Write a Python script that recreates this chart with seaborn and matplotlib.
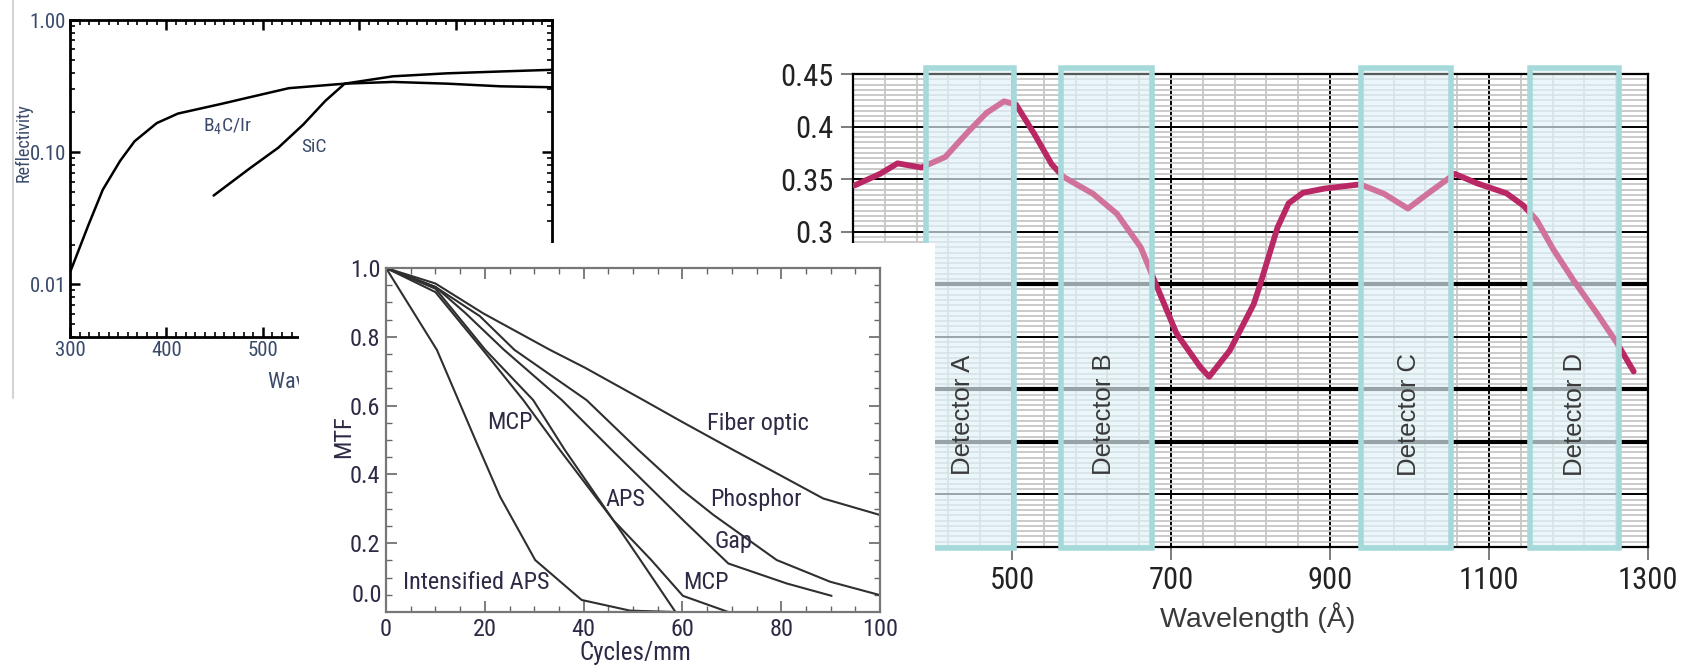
import numpy as np
import matplotlib
matplotlib.use('Agg')
import matplotlib.pyplot as plt
import matplotlib.ticker as mticker
from matplotlib.lines import Line2D
from matplotlib import font_manager as fm
import seaborn as sns

# --- reflectivity panel (top left) ---
b4c_wl = [300, 319, 334, 352, 367, 390, 412, 457, 486, 527, 585, 635, 691, 747, 800]
b4c_refl = [0.0123, 0.028, 0.052, 0.086, 0.121, 0.166, 0.196, 0.232, 0.26, 0.305, 0.33, 0.34, 0.33, 0.315, 0.31]
sic_wl = [449, 486, 516, 542, 565, 585, 635, 691, 747, 800]
sic_refl = [0.047, 0.075, 0.108, 0.162, 0.245, 0.33, 0.375, 0.395, 0.408, 0.42]

# --- MTF panel (bottom middle) ---
fiber_x = [0, 10, 19.7, 33.2, 40.3, 52.1, 59.9, 70.3, 79.1, 88.5, 100]
fiber_y = [1.0, 0.955, 0.868, 0.762, 0.71, 0.616, 0.553, 0.471, 0.403, 0.33, 0.282]
phos_x = [0, 10, 19, 26, 40.6, 51.1, 59.9, 66.3, 79.1, 89.9, 100]
phos_y = [1.0, 0.945, 0.86, 0.762, 0.616, 0.471, 0.355, 0.282, 0.151, 0.088, 0.049]
gap_x = [0, 10, 16, 23.9, 35.6, 45.7, 60.5, 69.3, 81.1, 90.2]
gap_y = [1.0, 0.945, 0.87, 0.762, 0.616, 0.471, 0.262, 0.141, 0.083, 0.047]
aps_x = [0, 10, 19.6, 27.8, 35.2, 46, 51.5, 58.6]
aps_y = [1.0, 0.93, 0.762, 0.616, 0.471, 0.267, 0.151, 0.0]
mcp_x = [0, 10, 20.1, 29.8, 36.2, 46, 53.7, 60.1, 69.3]
mcp_y = [1.0, 0.94, 0.762, 0.616, 0.471, 0.267, 0.151, 0.047, 0.0]
iaps_x = [0, 10.3, 18.4, 23.1, 30.2, 39.6, 49.4, 58.6]
iaps_y = [1.0, 0.762, 0.49, 0.335, 0.151, 0.035, 0.004, 0.0]
mtf_names = ['MCP', 'Fiber optic', 'APS', 'Phosphor', 'Gap', 'MCP', 'Intensified APS']

# --- detector response panel (right) ---
wave = [302, 334, 356, 386, 416, 446, 468, 490, 505, 528, 550, 565, 602, 632, 662, 681,
        707, 737, 748, 774, 804, 811, 834, 848, 866, 893, 938, 968, 998, 1028, 1057, 1085,
        1122, 1143, 1160, 1181, 1206, 1236, 1261, 1282]
resp = [0.344, 0.355, 0.365, 0.361, 0.371, 0.396, 0.413, 0.424, 0.421, 0.393, 0.364, 0.352,
        0.336, 0.317, 0.285, 0.250, 0.203, 0.171, 0.162, 0.187, 0.231, 0.247, 0.304, 0.327,
        0.337, 0.341, 0.345, 0.336, 0.322, 0.339, 0.355, 0.346, 0.3365, 0.325, 0.311, 0.283,
        0.254, 0.222, 0.194, 0.167]
det_names = ['Detector A', 'Detector B', 'Detector C', 'Detector D']
det_lo = [392, 562, 939, 1152]
det_hi = [502, 676, 1052, 1263]
heavy_grid = [0.25, 0.15, 0.1]  # 原圖中較粗的格線

sns.set_theme(style='ticks')
names = {f.name for f in fm.fontManager.ttflist}
narrow, k = 'Liberation Sans', 0.86
for pref in ['Liberation Sans Narrow', 'Roboto Condensed', 'Open Sans Condensed', 'Noto Sans Condensed']:
    if pref in names:
        narrow, k = pref, 1.0
        break
reg = 'Liberation Sans'
plt.rcParams['font.family'] = [narrow, 'DejaVu Sans']

W, H = 1688, 669
fig = plt.figure(figsize=(W / 100, H / 100), dpi=100)


def box(l, t, r, b):
    return [l / W, 1 - b / H, (r - l) / W, (b - t) / H]


ax1 = fig.add_axes(box(70, 20, 552, 337))
ax3 = fig.add_axes(box(853, 74, 1648, 547))
panel = fig.add_axes(box(299, 243, 935, 669))
ax2 = fig.add_axes(box(386, 268, 880, 612))
ax1.set_zorder(1)
ax3.set_zorder(1)
panel.set_zorder(5)
ax2.set_zorder(6)

# 左上：反射率
c1 = '#3b4a6b'
sns.lineplot(x=b4c_wl, y=b4c_refl, ax=ax1, color='black', lw=1.8)
sns.lineplot(x=sic_wl, y=sic_refl, ax=ax1, color='black', lw=1.8)
ax1.set_yscale('log')
ax1.set_xlim(300, 800)
ax1.set_ylim(0.004, 1.0)
ax1.set_xticks(range(300, 801, 100))
ax1.set_xticklabels(['300', '400', '500', '', '', ''])  # 其餘被下方圖遮住
ax1.xaxis.set_minor_locator(mticker.MultipleLocator(10))
ax1.set_yticks([0.01, 0.1, 1.0])
ax1.set_yticklabels(['0.01', '0.10', '1.00'])
ax1.yaxis.set_minor_locator(mticker.LogLocator(subs=np.arange(2, 10)))
ax1.yaxis.set_minor_formatter(mticker.NullFormatter())
ax1.tick_params(which='both', direction='in', top=True, right=True, color='black')
ax1.tick_params(which='major', length=7, width=1.8, labelsize=15 * k, pad=3, labelcolor=c1)
ax1.tick_params(which='minor', length=3.5, width=1.2)
for s in ax1.spines.values():
    s.set_color('black')
    s.set_linewidth(2)
ax1.set_ylabel('Reflectivity', fontsize=13 * k, color=c1, va='center')
ax1.yaxis.set_label_coords(-0.096, 0.612)
ax1.set_xlabel('Wavelength (Å)', fontsize=16 * k, color=c1, va='center', ha='left')
ax1.xaxis.set_label_coords(0.41, -0.136)
ax1.text(463, 0.157, r'$\mathregular{B_4C/Ir}$', fontsize=14 * k, color=c1, ha='center', va='center')
ax1.text(553, 0.109, 'SiC', fontsize=14 * k, color=c1, ha='center', va='center')

# 右：探測器響應
red = '#b92864'
sns.lineplot(x=wave, y=resp, ax=ax3, color=red, lw=4.2, zorder=3)
ax3.set_xlim(300, 1300)
ax3.set_ylim(0, 0.45)
ax3.set_xticks(range(500, 1301, 200))
yt = np.round(np.arange(0, 0.451, 0.05), 2)
ax3.set_yticks(yt)
# 0.3 以下的刻度文字被中間的圖遮住
ax3.set_yticklabels(['{:g}'.format(v) if v >= 0.3 else '' for v in yt])
ax3.set_xticks(np.arange(300, 1301, 40), minor=True)
ax3.set_yticks(np.arange(0, 0.451, 0.005), minor=True)
ax3.set_axisbelow(True)
ax3.grid(which='minor', color='#c6c6c6', lw=1.3)
ax3.grid(which='major', color='black', lw=1.4)
for v in heavy_grid:
    ax3.axhline(v, color='black', lw=3, zorder=1)
ax3.tick_params(which='minor', length=0)
ax3.tick_params(which='major', direction='out', length=9, width=1.2, color='#666666',
                labelsize=22 * k, pad=5, labelcolor='#222222')
for s in ax3.spines.values():
    s.set_color('black')
    s.set_linewidth(1.6)
for lo, hi in zip(det_lo, det_hi):
    # 淡藍底在曲線下，白色半透明罩在曲線上
    ax3.axvspan(lo, hi, ymin=-0.002, ymax=1.013, facecolor='#c1e6f0', alpha=0.5, lw=0,
                zorder=2, clip_on=False)
    ax3.axvspan(lo, hi, ymin=-0.002, ymax=1.013, facecolor='white', alpha=0.35, lw=0,
                zorder=4, clip_on=False)
    ax3.axvspan(lo, hi, ymin=-0.002, ymax=1.013, facecolor='none', edgecolor='#a6dada',
                lw=4, zorder=4, clip_on=False)
for name, xc in zip(det_names, [438, 616, 1000, 1208]):
    ax3.text(xc, 0.126, name, rotation=90, ha='center', va='center', fontsize=18.5,
             color='#3a3a3a', zorder=5, family=reg)
ax3.set_xlabel('Wavelength (Å)', fontsize=20.5, color='#3a3a3a', family=reg, va='center')
ax3.xaxis.set_label_coords(0.509, -0.150)

# 白底遮蓋面板
panel.set_facecolor('white')
panel.set_xticks([])
panel.set_yticks([])
for s in panel.spines.values():
    s.set_visible(False)

# 中下：MTF
c2 = '#2e2a45'
for xs, ys in [(fiber_x, fiber_y), (phos_x, phos_y), (gap_x, gap_y),
               (aps_x, aps_y), (mcp_x, mcp_y), (iaps_x, iaps_y)]:
    sns.lineplot(x=xs, y=ys, ax=ax2, color='#2f2f2f', lw=1.5)
ax2.set_xlim(0, 100)
ax2.set_ylim(0, 1.0)
ax2.set_xticks(range(0, 101, 20))
ax2.xaxis.set_minor_locator(mticker.MultipleLocator(5))
ax2.set_yticks(np.round(np.arange(0, 1.01, 0.2), 1))
ax2.set_yticklabels([''] + ['%.1f' % v for v in np.arange(0.2, 1.01, 0.2)])
ax2.yaxis.set_minor_locator(mticker.MultipleLocator(0.05))
ax2.tick_params(which='both', direction='in', top=True, right=True, color='#666666')
ax2.tick_params(which='major', length=8, width=1.2, labelsize=17.5 * k, pad=4, labelcolor=c2)
ax2.tick_params(which='minor', length=4, width=1.0)
ax2.text(-0.008, 0.049, '0.0', transform=ax2.transAxes, ha='right', va='center',
         fontsize=17.5 * k, color=c2)
for s in ax2.spines.values():
    s.set_color('#777777')
    s.set_linewidth(1.6)
ax2.set_ylabel('MTF', fontsize=17.5 * k, color=c2, va='center')
ax2.yaxis.set_label_coords(-0.085, 0.51)
ax2.set_xlabel('Cycles/mm', fontsize=18 * k, color=c2, va='center')
ax2.xaxis.set_label_coords(0.504, -0.119)
for name, (xl, yl) in zip(mtf_names, [(25.1, 0.55), (75.2, 0.548), (48.4, 0.326), (74.9, 0.328),
                                       (70.3, 0.205), (64.8, 0.087), (18.2, 0.087)]):
    ax2.text(xl, yl, name, fontsize=17.5 * k, color=c2, ha='center', va='center')

fig.add_artist(Line2D([12.5 / W, 12.5 / W], [1, 1 - 398 / H], transform=fig.transFigure,
                      color='#d4d4d4', lw=1.5))

fig.savefig('out.png', dpi=100)
